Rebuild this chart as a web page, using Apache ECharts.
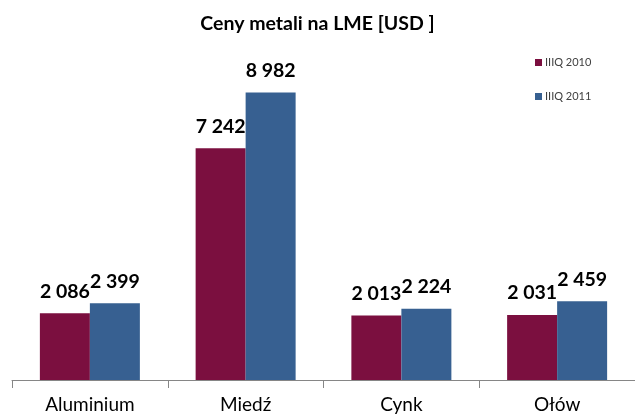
<!DOCTYPE html>
<html>
<head>
<meta charset="utf-8">
<script src="https://cdn.jsdelivr.net/npm/echarts@6/dist/echarts.min.js"></script>
<style>
html,body{margin:0;padding:0;background:#fff}
#chart{width:635px;height:418px}
</style>
</head>
<body>
<div id="chart"></div>
<script>
const categories = ['Aluminium', 'Miedź', 'Cynk', 'Ołów']
const seriesNames = ['IIIQ 2010', 'IIIQ 2011']
const q2010 = [2086, 7242, 2013, 2031]
const q2011 = [2399, 8982, 2224, 2459]

// liczby z odstępem tysięcy, jak w oryginale
const fmt = v => String(v).replace(/\B(?=(\d{3})+(?!\d))/g, ' ')

const font = 'Lato, "Open Sans", sans-serif'
const chart = echarts.init(document.getElementById('chart'))

const label = {
    show: true,
    position: 'top',
    distance: 12,
    fontFamily: font,
    fontWeight: 'bold',
    fontSize: 19.5,
    color: '#000',
    formatter: p => fmt(p.value)
}

chart.setOption({
    animation: false,
    title: {
        text: 'Ceny metali na LME [USD ]',
        left: 'center',
        top: 9,
        textStyle: { fontFamily: font, fontWeight: 'bold', fontSize: 19.5, color: '#000' }
    },
    legend: {
        orient: 'vertical',
        left: 530,
        top: 52,
        itemWidth: 7,
        itemHeight: 7,
        itemGap: 23,
        icon: 'rect',
        textStyle: { fontFamily: font, fontSize: 11, color: '#404040', padding: [0, 0, 0, -2] },
        data: seriesNames
    },
    grid: { left: 12, width: 626, top: 60, bottom: 38 },
    xAxis: {
        type: 'category',
        data: categories,
        axisLine: { lineStyle: { color: '#868686', width: 1 } },
        axisTick: { show: true, length: 8, lineStyle: { color: '#868686' } },
        axisLabel: { fontFamily: font, fontSize: 19, color: '#000', margin: 15 }
    },
    yAxis: {
        type: 'value',
        min: 0,
        max: 10000,
        show: false,
        splitLine: { show: false }
    },
    series: [
        {
            name: seriesNames[0],
            type: 'bar',
            data: q2010,
            barWidth: 50,
            barGap: '0%',
            itemStyle: { color: '#7B0F3F' },
            label
        },
        {
            name: seriesNames[1],
            type: 'bar',
            data: q2011,
            barWidth: 50,
            itemStyle: { color: '#376091' },
            label
        }
    ]
})
</script>
</body>
</html>
